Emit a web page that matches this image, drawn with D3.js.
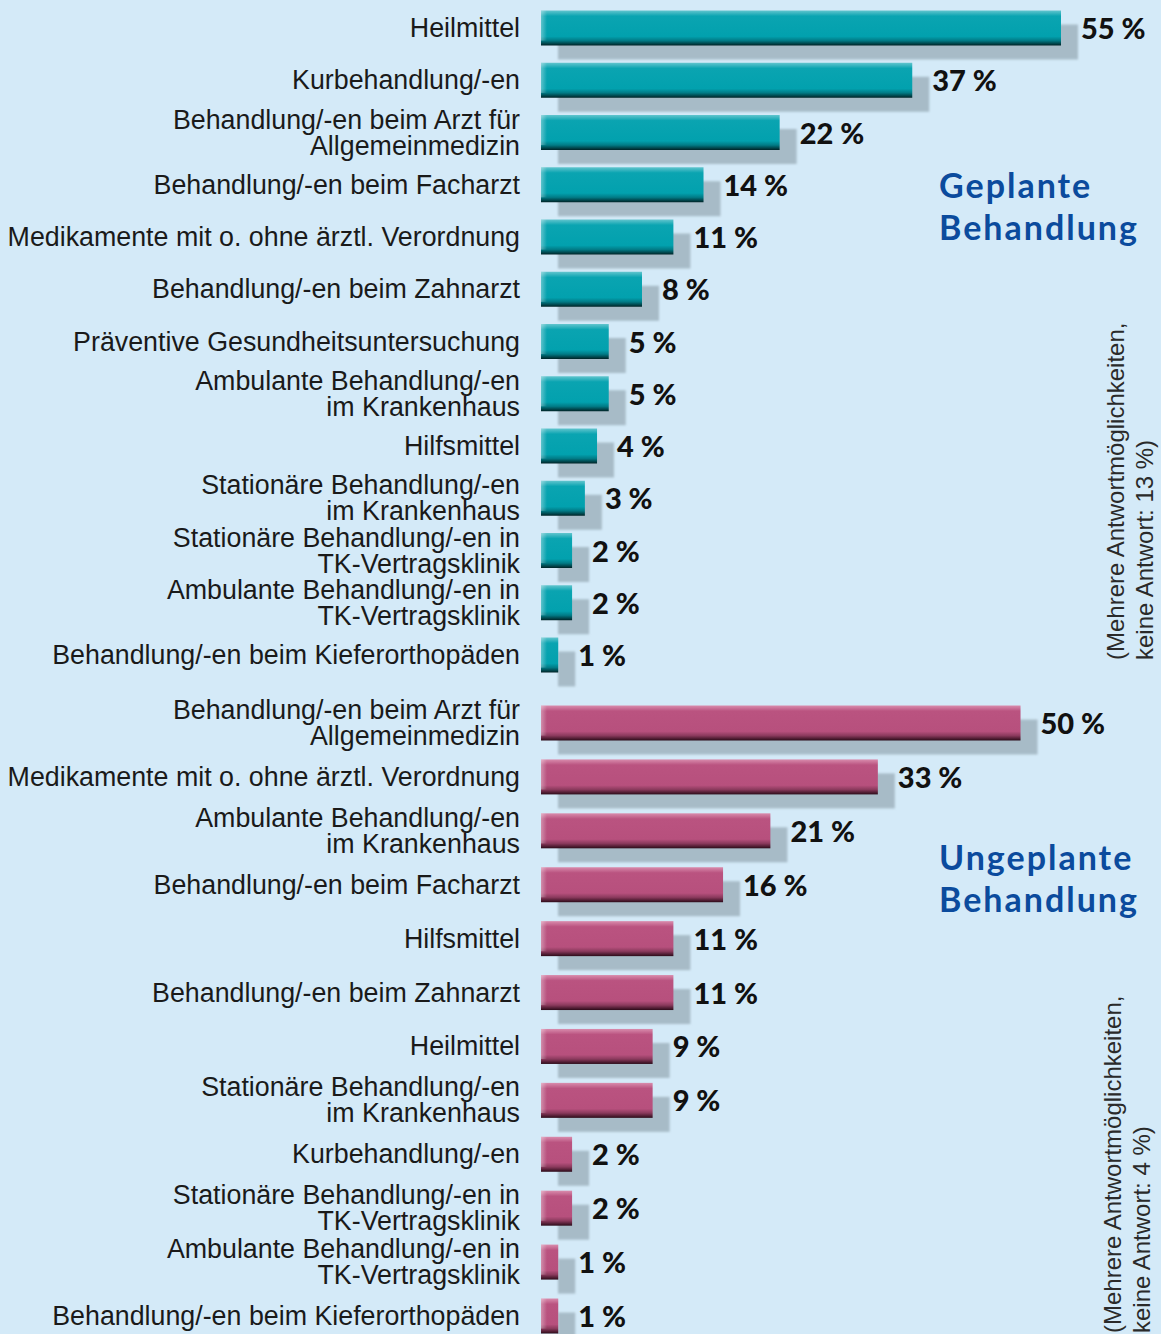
<!DOCTYPE html>
<html><head><meta charset="utf-8">
<script src="https://cdn.jsdelivr.net/npm/d3@7"></script>
<style>html,body{margin:0;padding:0;background:#d4eaf8;}svg{display:block;}</style>
</head><body>
<svg id="chart" width="1161" height="1334"></svg>
<script>
const plannedLabels = ["Heilmittel","Kurbehandlung/-en","Behandlung/-en beim Arzt für\nAllgemeinmedizin","Behandlung/-en beim Facharzt","Medikamente mit o. ohne ärztl. Verordnung","Behandlung/-en beim Zahnarzt","Präventive Gesundheitsuntersuchung","Ambulante Behandlung/-en\nim Krankenhaus","Hilfsmittel","Stationäre Behandlung/-en\nim Krankenhaus","Stationäre Behandlung/-en in\nTK-Vertragsklinik","Ambulante Behandlung/-en in\nTK-Vertragsklinik","Behandlung/-en beim Kieferorthopäden"];
const plannedValues = [55,37,22,14,11,8,5,5,4,3,2,2,1];
const unplannedLabels = ["Behandlung/-en beim Arzt für\nAllgemeinmedizin","Medikamente mit o. ohne ärztl. Verordnung","Ambulante Behandlung/-en\nim Krankenhaus","Behandlung/-en beim Facharzt","Hilfsmittel","Behandlung/-en beim Zahnarzt","Heilmittel","Stationäre Behandlung/-en\nim Krankenhaus","Kurbehandlung/-en","Stationäre Behandlung/-en in\nTK-Vertragsklinik","Ambulante Behandlung/-en in\nTK-Vertragsklinik","Behandlung/-en beim Kieferorthopäden"];
const unplannedValues = [50,33,21,16,11,11,9,9,2,2,1,1];
const groupTitles = [["Geplante","Behandlung"],["Ungeplante","Behandlung"]];
const groupNotes = [["(Mehrere Antwortmöglichkeiten,","keine Antwort: 13 %)"],["(Mehrere Antwortmöglichkeiten,","keine Antwort: 4 %)"]];

const svg = d3.select("#chart");
const defs = svg.append("defs");
defs.append("filter").attr("id","blur").attr("x","-20%").attr("y","-20%").attr("width","140%").attr("height","140%")
  .append("feGaussianBlur").attr("stdDeviation",1.3);
function grad(id, stops){
  const g = defs.append("linearGradient").attr("id",id).attr("x1",0).attr("y1",0).attr("x2",0).attr("y2",1);
  stops.forEach(s=>g.append("stop").attr("offset",s[0]).attr("stop-color",s[1]));
}
grad("teal",[[0,"#62c5ce"],[0.16,"#0aa4b1"],[0.74,"#02a1ae"],[0.86,"#017b86"],[1,"#002326"]]);
grad("pink",[[0,"#d98cad"],[0.16,"#ba5380"],[0.74,"#b7507d"],[0.86,"#8b3a5d"],[1,"#2c0b19"]]);
const hl = defs.append("linearGradient").attr("id","edge").attr("x1",0).attr("y1",0).attr("x2",1).attr("y2",0);
hl.append("stop").attr("offset",0).attr("stop-color","#fff").attr("stop-opacity",0.35);
hl.append("stop").attr("offset",1).attr("stop-color","#fff").attr("stop-opacity",0);

const x0 = 541;
const x = d3.scalePow().exponent(0.85).domain([0,55]).range([0,520]);
const barH = 35;

function drawGroup(labels, values, yRange, fillId, title, titleY, note, noteX, noteY){
  const idx = d3.range(labels.length);
  const y = d3.scalePoint().domain(idx).range(yRange);
  const g = svg.append("g");
  g.selectAll("rect.sh").data(idx).join("rect").attr("class","sh")
    .attr("x", x0+17).attr("y", i=>y(i)-barH/2+14)
    .attr("width", i=>x(values[i])).attr("height", barH)
    .attr("fill","#a7bbc7").attr("filter","url(#blur)");
  g.selectAll("rect.bar").data(idx).join("rect").attr("class","bar")
    .attr("x", x0).attr("y", i=>y(i)-barH/2)
    .attr("width", i=>x(values[i])).attr("height", barH)
    .attr("fill",`url(#${fillId})`);
  g.selectAll("rect.edge").data(idx).join("rect").attr("class","edge")
    .attr("x", x0).attr("y", i=>y(i)-barH/2)
    .attr("width", i=>Math.min(6, x(values[i]))).attr("height", barH*0.86)
    .attr("fill","url(#edge)");
  g.selectAll("text.val").data(idx).join("text").attr("class","val")
    .attr("x", i=>x0+x(values[i])+20).attr("y", i=>y(i)+11)
    .attr("font-family","Lato, 'DejaVu Sans', sans-serif").attr("font-weight",900)
    .attr("font-size",29).attr("fill","#111")
    .text(i=>values[i]+" %");
  const lt = g.selectAll("text.cat").data(idx).join("text").attr("class","cat")
    .attr("text-anchor","end")
    .attr("font-family","'Liberation Sans', Arial, sans-serif").attr("font-size",26.8).attr("fill","#1a1a1a");
  lt.each(function(i){
    const lines = labels[i].split("\n");
    const t = d3.select(this);
    const c = y(i);
    const start = c - (lines.length-1)*13 + 9;
    lines.forEach((ln,k)=>t.append("tspan").attr("x",520).attr("y",start+k*26).text(ln));
  });
  const tt = svg.append("text").attr("font-family","Lato, sans-serif").attr("font-weight",700)
    .attr("font-size",34).attr("letter-spacing",2).attr("fill","#0b4b9d");
  title.forEach((ln,k)=>tt.append("tspan").attr("x",939).attr("y",titleY+k*42).text(ln));
  const nt = svg.append("text").attr("transform",`translate(0,${noteY}) rotate(-90)`)
    .attr("font-family","'Liberation Sans', Arial, sans-serif").attr("font-size",24).attr("fill","#2a2a2a");
  note.forEach((ln,k)=>nt.append("tspan").attr("x",0).attr("y",noteX+k*29).text(ln));
}

drawGroup(plannedLabels, plannedValues, [28,655], "teal", groupTitles[0], 198, groupNotes[0], 1124, 660);
drawGroup(unplannedLabels, unplannedValues, [723,1316], "pink", groupTitles[1], 870, groupNotes[1], 1121, 1333);
</script>
</body></html>
